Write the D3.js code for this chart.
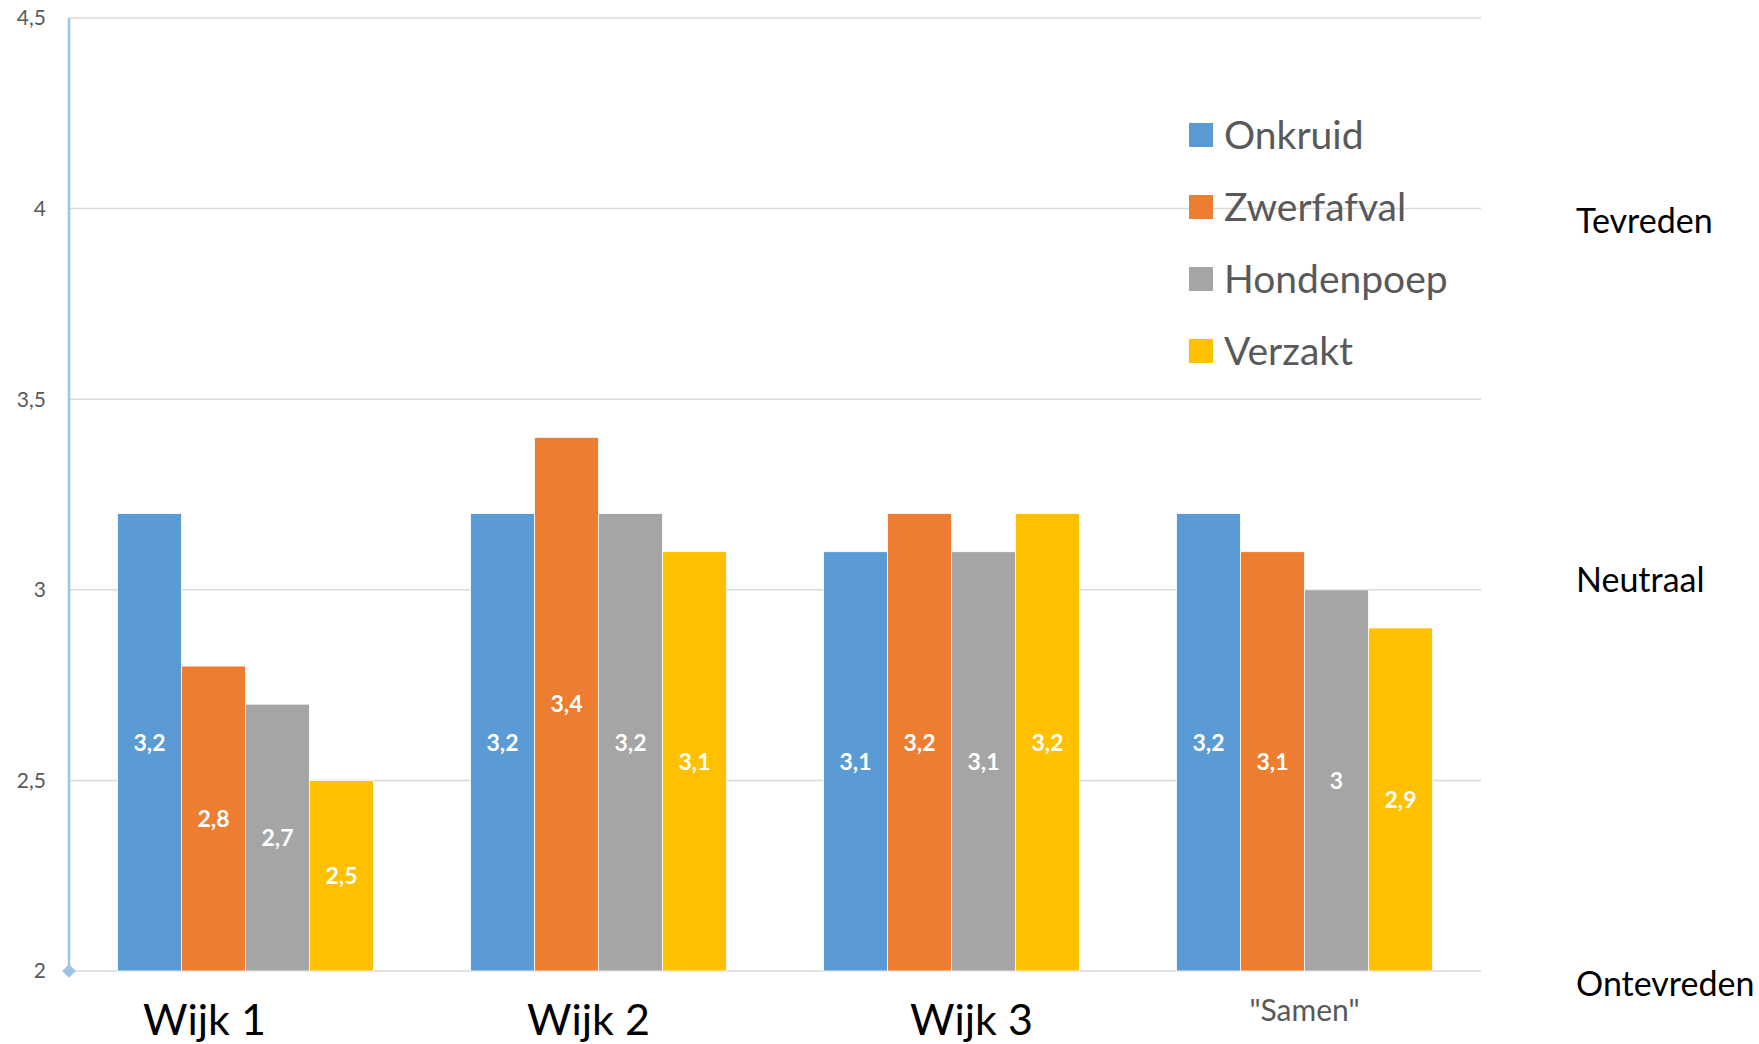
<!DOCTYPE html>
<html>
<head>
<meta charset="utf-8">
<script src="https://cdn.jsdelivr.net/npm/d3@7"></script>
<style>
  html, body { margin: 0; padding: 0; background: #fff; }
  svg { display: block; font-family: Lato, "Open Sans", sans-serif; }
</style>
</head>
<body>
<div id="chart"></div>
<script>
// Gegevens
const wijken = ['Wijk 1', 'Wijk 2', 'Wijk 3', '"Samen"'];
const reeksen = ['Onkruid', 'Zwerfafval', 'Hondenpoep', 'Verzakt'];
const kleuren = ['#5B9BD5', '#ED7D31', '#A5A5A5', '#FFC000'];
const onkruid = [3.2, 3.2, 3.1, 3.2];
const zwerfafval = [2.8, 3.4, 3.2, 3.1];
const hondenpoep = [2.7, 3.2, 3.1, 3.0];
const verzakt = [2.5, 3.1, 3.2, 2.9];
const yTicks = [2, 2.5, 3, 3.5, 4, 4.5];
const oordelen = ['Tevreden', 'Neutraal', 'Ontevreden'];

const waarden = [onkruid, zwerfafval, hondenpoep, verzakt];

const width = 1759, height = 1044;
const margin = { left: 69, right: 278, top: 18, bottom: 73 };

const svg = d3.select('#chart').append('svg')
    .attr('width', width)
    .attr('height', height);

// Schalen
const x0 = d3.scaleBand()
    .domain(wijken)
    .range([margin.left, width - margin.right])
    .paddingInner(0.275)
    .paddingOuter(0.1375);

const x1 = d3.scaleBand()
    .domain(reeksen)
    .range([0, x0.bandwidth()]);

const y = d3.scaleLinear()
    .domain([2, 4.5])
    .range([height - margin.bottom, margin.top]);

const fmt = v => String(+v.toFixed(1)).replace('.', ',');

// Rasterlijnen
svg.append('g')
    .selectAll('line')
    .data(yTicks)
    .enter().append('line')
    .attr('x1', margin.left)
    .attr('x2', width - margin.right)
    .attr('y1', d => y(d))
    .attr('y2', d => y(d))
    .attr('stroke', '#D9D9D9')
    .attr('stroke-width', 1.5);

// Y-as labels
svg.append('g')
    .selectAll('text')
    .data(yTicks)
    .enter().append('text')
    .attr('x', 46)
    .attr('y', d => y(d))
    .attr('dy', '0.35em')
    .attr('text-anchor', 'end')
    .attr('fill', '#595959')
    .attr('font-size', 21)
    .text(fmt);

// Staven
const groep = svg.append('g')
    .selectAll('g')
    .data(wijken)
    .enter().append('g')
    .attr('transform', d => `translate(${x0(d)},0)`);

const staaf = groep.selectAll('g')
    .data((d, i) => reeksen.map((r, j) => ({ reeks: r, kleur: kleuren[j], waarde: waarden[j][i] })))
    .enter().append('g');

staaf.append('rect')
    .attr('x', d => x1(d.reeks))
    .attr('y', d => y(d.waarde))
    .attr('width', x1.bandwidth())
    .attr('height', d => y(2) - y(d.waarde))
    .attr('fill', d => d.kleur)
    .attr('stroke', '#fff')
    .attr('stroke-width', 0.8);

staaf.append('text')
    .attr('x', d => x1(d.reeks) + x1.bandwidth() / 2)
    .attr('y', d => (y(d.waarde) + y(2)) / 2)
    .attr('dy', '0.36em')
    .attr('text-anchor', 'middle')
    .attr('fill', '#fff')
    .attr('font-weight', 'bold')
    .attr('font-size', 23)
    .text(d => fmt(d.waarde));

// Y-as lijn met ruit onderaan
svg.append('line')
    .attr('x1', margin.left).attr('x2', margin.left)
    .attr('y1', y(4.5)).attr('y2', y(2))
    .attr('stroke', '#9DC3E6')
    .attr('stroke-width', 2.5);

svg.append('path')
    .attr('d', d3.symbol(d3.symbolDiamond2, 120)())
    .attr('transform', `translate(${margin.left},${y(2)})`)
    .attr('fill', '#9DC3E6');

// Categorielabels: "Samen" als aslabel, wijken als losse tekstvakken
const wijkVerschuiving = [-41, -10, 20];
svg.append('g')
    .selectAll('text')
    .data(wijken)
    .enter().append('text')
    .attr('x', (d, i) => x0(d) + x0.bandwidth() / 2 + (i < 3 ? wijkVerschuiving[i] : 0))
    .attr('y', (d, i) => i < 3 ? 1035 : 1021)
    .attr('text-anchor', 'middle')
    .attr('fill', (d, i) => i < 3 ? '#000' : '#595959')
    .attr('font-size', (d, i) => i < 3 ? 43 : 30)
    .text(d => d);

// Legenda
const legenda = svg.append('g')
    .attr('transform', 'translate(1189,123)');

const item = legenda.selectAll('g')
    .data(reeksen)
    .enter().append('g')
    .attr('transform', (d, i) => `translate(0,${i * 72})`);

item.append('rect')
    .attr('width', 24)
    .attr('height', 24)
    .attr('fill', (d, i) => kleuren[i]);

item.append('text')
    .attr('x', 35)
    .attr('y', 12)
    .attr('dy', '0.35em')
    .attr('fill', '#595959')
    .attr('font-size', 39)
    .text(d => d);

// Oordelen rechts
svg.append('g')
    .selectAll('text')
    .data(oordelen)
    .enter().append('text')
    .attr('x', 1576)
    .attr('y', (d, i) => [233, 592, 996][i])
    .attr('fill', '#000')
    .attr('font-size', 34)
    .text(d => d);
</script>
</body>
</html>
